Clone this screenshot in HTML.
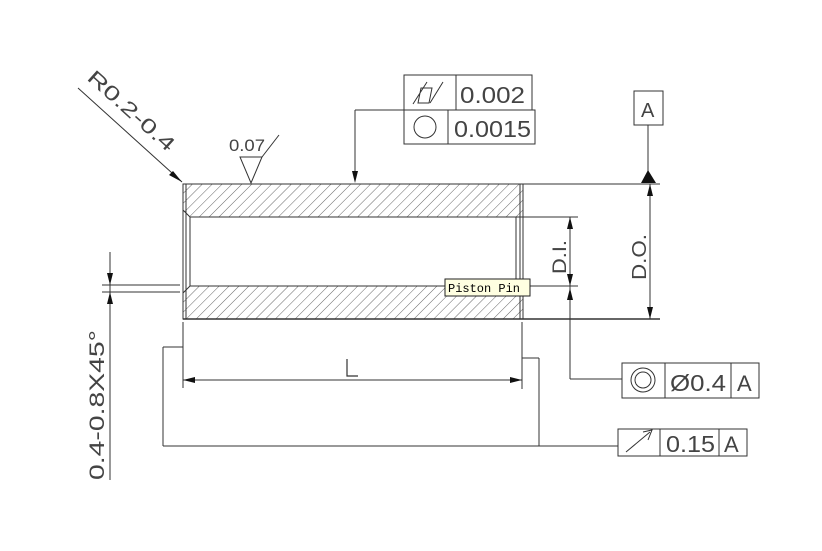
<!DOCTYPE html>
<html><head><meta charset="utf-8"><style>
html,body{margin:0;padding:0;background:#fff;}
svg{display:block;}
text{font-family:"Liberation Sans",sans-serif;fill:#444;}
</style></head><body>
<svg width="822" height="551" viewBox="0 0 822 551" xmlns="http://www.w3.org/2000/svg">
<defs>
<pattern id="h" patternUnits="userSpaceOnUse" width="7" height="7" patternTransform="rotate(45)">
<line x1="0" y1="0" x2="0" y2="7" stroke="#555" stroke-width="0.9"/>
</pattern>
</defs>
<g stroke="#333" stroke-width="1" fill="none">
<path d="M183,184 H523 V217 H190 L183,210 Z" fill="url(#h)"/>
<path d="M183,319 H523 V286 H190 L183,293 Z" fill="url(#h)"/>
<rect x="183" y="184" width="340" height="135" stroke="#333"/>
<line x1="186" y1="184" x2="186" y2="319"/>
<line x1="520" y1="184" x2="520" y2="319"/>
<line x1="190" y1="217" x2="523" y2="217"/>
<line x1="190" y1="286" x2="523" y2="286"/>
<line x1="190" y1="217" x2="190" y2="286"/>
<line x1="516" y1="217" x2="516" y2="286"/>
<line x1="183" y1="319" x2="660" y2="319" stroke-width="1.4"/>
<line x1="523" y1="184" x2="660" y2="184"/>
<line x1="523" y1="217" x2="578" y2="217"/>
<line x1="523" y1="286" x2="578" y2="286"/>
<line x1="650" y1="184" x2="650" y2="319"/>
<line x1="570" y1="217" x2="570" y2="286"/>
<line x1="570" y1="286" x2="570" y2="379"/>
<line x1="570" y1="379" x2="622" y2="379"/>
<rect x="634" y="91" width="29" height="34"/>
<line x1="648" y1="125" x2="648" y2="172"/>
<rect x="404" y="75" width="128" height="35"/>
<line x1="456" y1="75" x2="456" y2="110"/>
<rect x="404" y="110" width="131" height="34"/>
<line x1="448" y1="110" x2="448" y2="144"/>
<circle cx="425" cy="127" r="11"/>
<path d="M413,104 L427,82 M418,103 L429,103 L432,88 L421,88 Z M430,103 L443,82"/>
<line x1="404" y1="110" x2="355" y2="110"/>
<line x1="355" y1="110" x2="355" y2="178"/>
<rect x="622" y="363" width="137" height="35"/>
<line x1="665" y1="363" x2="665" y2="398"/>
<line x1="731" y1="363" x2="731" y2="398"/>
<circle cx="643" cy="380" r="12"/>
<circle cx="643" cy="380" r="8"/>
<rect x="618" y="429" width="129" height="27"/>
<line x1="660" y1="429" x2="660" y2="456"/>
<line x1="719" y1="429" x2="719" y2="456"/>
<line x1="626" y1="452" x2="650" y2="432"/>
<path d="M643,432 L652,430 L648,440"/>
<line x1="163" y1="347" x2="183" y2="347"/>
<line x1="163" y1="347" x2="163" y2="446"/>
<line x1="163" y1="446" x2="618" y2="446"/>
<line x1="522" y1="358" x2="539" y2="358"/>
<line x1="539" y1="358" x2="539" y2="446"/>
<line x1="183" y1="322" x2="183" y2="388"/>
<line x1="522" y1="322" x2="522" y2="389"/>
<line x1="183" y1="380" x2="522" y2="380"/>
<path d="M347,359 V376 H358" stroke-width="1.2"/>
<line x1="102" y1="285" x2="180" y2="285"/>
<line x1="102" y1="292" x2="180" y2="292"/>
<line x1="110" y1="252" x2="110" y2="480"/>
<path d="M240,157 H262 L251,183 Z"/>
<line x1="262" y1="157" x2="279" y2="135"/>
<line x1="78" y1="88" x2="182" y2="182"/>
</g>
<g fill="#111">
<path d="M648,170 L641,183 L656,183 Z"/>
<path d="M650,184 l-3,12 h6 Z M650,319 l-3,-12 h6 Z"/>
<path d="M570,217 l-3,12 h6 Z M570,286 l-3,-12 h6 Z M570,288 l-3,12 h6 Z"/>
<path d="M355,183 l-3,-12 h6 Z"/>
<path d="M183,380 l12,-3 v6 Z M522,380 l-12,-3 v6 Z"/>
<path d="M110,285 l-3,-12 h6 Z M110,292 l-3,12 h6 Z"/>
<path d="M182,182 l-9,-11 l-4,4 Z"/>
</g>
<text x="460" y="103" font-size="23" textLength="65" lengthAdjust="spacingAndGlyphs">0.002</text>
<text x="454" y="137" font-size="23" textLength="77" lengthAdjust="spacingAndGlyphs">0.0015</text>
<text x="641" y="117" font-size="20">A</text>
<text x="670" y="391" font-size="23" textLength="56" lengthAdjust="spacingAndGlyphs">Ø0.4</text>
<text x="737" y="391" font-size="22">A</text>
<text x="666" y="452" font-size="23" textLength="49" lengthAdjust="spacingAndGlyphs">0.15</text>
<text x="724" y="452" font-size="22">A</text>
<text x="229" y="151" font-size="17" textLength="36" lengthAdjust="spacingAndGlyphs">0.07</text>
<text transform="translate(566,274) rotate(-90)" font-size="19" textLength="34" lengthAdjust="spacingAndGlyphs">D.I.</text>
<text transform="translate(646,280) rotate(-90)" font-size="20" textLength="46" lengthAdjust="spacingAndGlyphs">D.O.</text>
<text transform="translate(104,480) rotate(-90)" font-size="21" textLength="150" lengthAdjust="spacingAndGlyphs">0.4-0.8X45°</text>
<text transform="translate(86,79) rotate(42)" font-size="20" textLength="110" lengthAdjust="spacingAndGlyphs">R0.2-0.4</text>
<rect x="445" y="279" width="85" height="17" fill="#ffffe1" stroke="#222"/>
<text x="448" y="292" font-size="12" style="font-family:'Liberation Mono',monospace;fill:#000">Piston Pin</text>
</svg>
</body></html>
